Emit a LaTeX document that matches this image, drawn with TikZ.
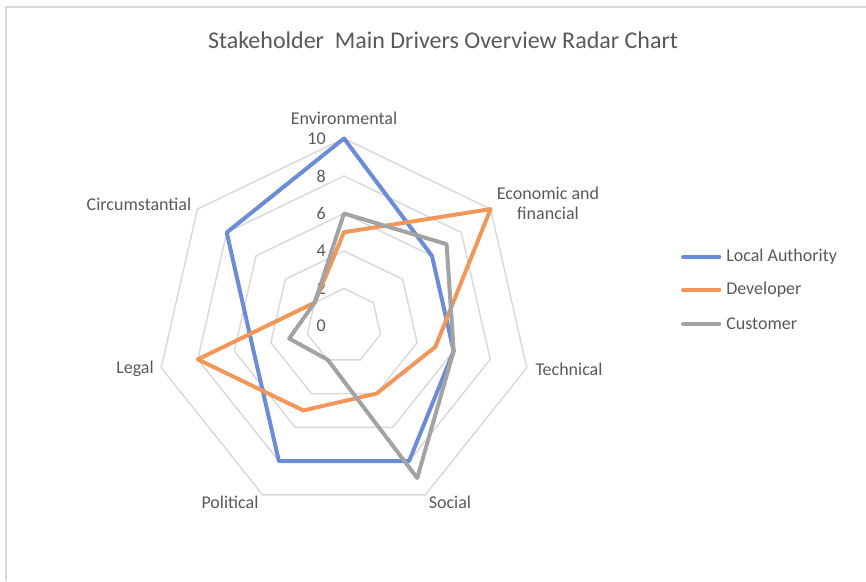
\documentclass[tikz,border=0pt]{standalone}
\usepackage{fontspec}
\setmainfont{Carlito}

\definecolor{laBlue}{HTML}{6A8DD6}
\definecolor{devOrange}{HTML}{F2975B}
\definecolor{custGrey}{HTML}{A3A3A3}
\definecolor{gridGrey}{HTML}{D9D9D9}
\definecolor{txtGrey}{HTML}{595959}

\begin{document}
\begin{tikzpicture}[x=0.75pt,y=0.75pt,
    series/.style={line width=3pt, line join=round},
    ring/.style={draw=gridGrey, line width=1.1pt},
    lbl/.style={text=txtGrey, inner sep=0pt, font=\fontsize{13.5}{15}\selectfont}]
    \def\u{18.75}
    \useasboundingbox (-344,-255) rectangle (522,326);
    % \draw[very thin,color=gray] (-344,-255) grid[step=50] (522,326);
    \draw[gridGrey, line width=1.5pt] (-338,-255) -- (-338,319) -- (522,319);

    \node[lbl, font=\fontsize{18}{21}\selectfont] (title) at (99,286) {Stakeholder\ \ Main Drivers Overview Radar Chart};

    % rings
    \foreach \r in {2,4,...,10}
      \draw[ring] (90:{\r*\u}) foreach \i in {1,...,6} { -- ({90-360/7*\i}:{\r*\u}) } -- cycle;

    % scale
    \foreach \v in {0,2,...,10}
      \node[lbl, anchor=east] (tick\v) at (-18,{\v*\u}) {\v};

    % categories
    \node[lbl] (environmental) at (0,208) {Environmental};
    \node[lbl, align=center] (economic) at (204,123) {Economic and\\financial};
    \node[lbl] (technical) at (225,-43) {Technical};
    \node[lbl] (social) at (106,-176) {Social};
    \node[lbl] (political) at (-114,-176) {Political};
    \node[lbl] (legal) at (-209,-43) {Legal};
    \node[lbl] (circumstantial) at (-205,122) {Circumstantial};

    % series
    \draw[series, laBlue] (90:{10*\u}) foreach \v [count=\i] in {6,6,8,8,5,8} { -- ({90-360/7*\i}:{\v*\u}) } -- cycle;
    \draw[series, devOrange] (90:{5*\u}) foreach \v [count=\i] in {10,5,4,5,8,2} { -- ({90-360/7*\i}:{\v*\u}) } -- cycle;
    \draw[series, custGrey] (90:{6*\u}) foreach \v [count=\i] in {7,6,9,2,3,2} { -- ({90-360/7*\i}:{\v*\u}) } -- cycle;

    % legend
    \coordinate (laA) at (339,69);
    \coordinate (devA) at (339,36);
    \coordinate (custA) at (339,2);
    \node[lbl, anchor=west] (laKey) at (382,69) {Local Authority};
    \node[lbl, anchor=west] (devKey) at (382,36) {Developer};
    \node[lbl, anchor=west] (custKey) at (382,2) {Customer};
    \draw[series, laBlue, line cap=round] (laA) -- ([xshift=-5]laKey.west);
    \draw[series, devOrange, line cap=round] (devA) -- ([xshift=-5]devKey.west);
    \draw[series, custGrey, line cap=round] (custA) -- ([xshift=-5]custKey.west);

\end{tikzpicture}
\end{document}
